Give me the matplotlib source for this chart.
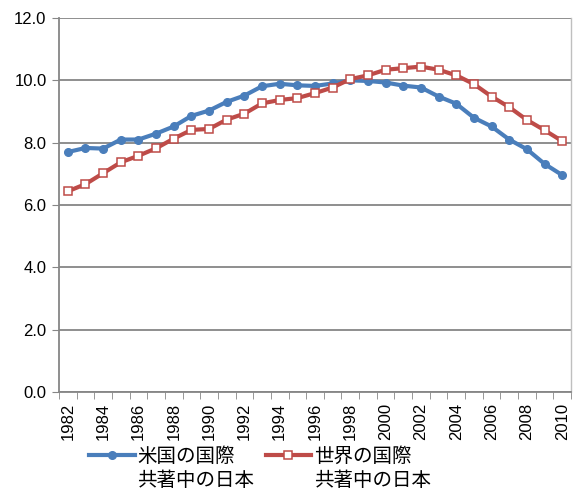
import numpy as np
import matplotlib
matplotlib.use('Agg')
import matplotlib.pyplot as plt

plt.rcParams['font.family'] = ['Liberation Sans', 'Noto Sans CJK JP', 'DejaVu Sans']

## Data
years = list(range(1982, 2011))
us_share = [7.70, 7.83, 7.81, 8.10, 8.10, 8.29, 8.52, 8.86, 9.03, 9.31,
            9.51, 9.81, 9.89, 9.84, 9.82, 9.90, 10.00, 9.98, 9.93, 9.83,
            9.77, 9.48, 9.25, 8.80, 8.52, 8.10, 7.79, 7.32, 6.96]
world_share = [6.44, 6.67, 7.02, 7.37, 7.58, 7.82, 8.13, 8.41, 8.44, 8.74,
               8.93, 9.26, 9.37, 9.43, 9.59, 9.77, 10.04, 10.16, 10.34, 10.39,
               10.44, 10.34, 10.16, 9.88, 9.48, 9.14, 8.73, 8.40, 8.05]
# legend labels, each split over two lines
us_label = ['米国の国際', '共著中の日本']
world_label = ['世界の国際', '共著中の日本']

fig = plt.figure(figsize=(5.75, 4.9), dpi=100)
ax = fig.add_axes([59/575, 98/490, 512/575, 374/490])

ind = np.arange(len(years))
ax.plot(ind, us_share, '-o', color='#4A7EBB', linewidth=3.0, markersize=5.5,
        markerfacecolor='#4A7EBB', markeredgecolor='#4A7EBB', label=us_label[0], zorder=3)
ax.plot(ind, world_share, '-s', color='#BE4B48', linewidth=3.0, markersize=5.2,
        markerfacecolor='white', markeredgecolor='#BE4B48', markeredgewidth=1.1,
        label=world_label[0], zorder=3)

# axes, ticks, grid
ax.set_xlim(-0.5, len(years) - 0.5)
ax.set_ylim(0, 12)
ax.set_yticks(np.arange(0, 12.1, 2))
ax.set_yticklabels(['%.1f' % v for v in np.arange(0, 12.1, 2)], fontsize=12)
ax.set_xticks(ind[::2])
ax.set_xticklabels([str(y) for y in years[::2]], rotation=90, fontsize=12)
ax.set_xticks(np.arange(-0.5, len(years), 1), minor=True)
ax.tick_params(axis='x', which='major', length=0, pad=8)
ax.tick_params(axis='x', which='minor', length=5, color='#868686', direction='out')
ax.tick_params(axis='y', length=5, color='#868686', pad=4)
ax.grid(axis='y', color='#868686', linewidth=1.3)
ax.set_axisbelow(True)
for side in ['left', 'bottom']:
    ax.spines[side].set_color('#868686')
    ax.spines[side].set_linewidth(1.3)
ax.spines['top'].set_visible(False)
ax.spines['right'].set_color('#BFBFBF')
ax.spines['right'].set_linewidth(1.0)

## Legend below the plot, second line of each label under the first
leg = ax.legend(loc='upper left', bbox_to_anchor=(89/575, 1 - 447/490),
                bbox_transform=fig.transFigure, ncol=2, frameon=False,
                handlelength=2.35, handletextpad=0.12, columnspacing=1.6,
                borderpad=0, borderaxespad=0, prop={'size': 14})
fig.canvas.draw()
inv = fig.transFigure.inverted()
for txt, lab in zip(leg.get_texts(), [us_label, world_label]):
    bb = txt.get_window_extent()
    x0, y0 = inv.transform((bb.x0, bb.y0 - 24))
    fig.text(x0, y0, lab[1], fontsize=14, ha='left', va='bottom')

fig.savefig('out.png', dpi=100)
